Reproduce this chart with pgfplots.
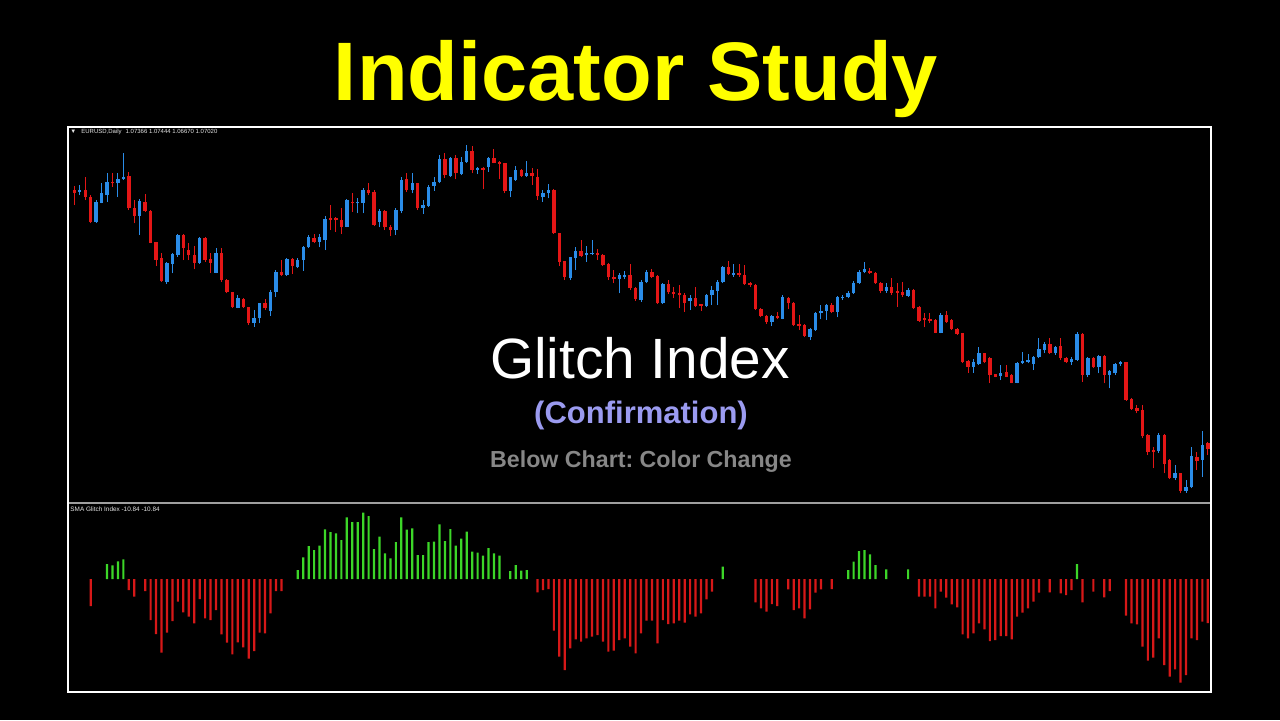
\documentclass[border=0pt]{standalone}
\usepackage{fontspec}
\setmainfont{Liberation Sans}
\usepackage{pgfplots}
\usepackage{pgfplotstable}
\pgfplotsset{compat=1.18}

\definecolor{candleup}{RGB}{42,140,232}
\definecolor{candledn}{RGB}{228,22,22}
\definecolor{histup}{RGB}{60,214,40}
\definecolor{histdn}{RGB}{214,24,24}
\definecolor{confirm}{RGB}{155,155,240}
\definecolor{subgrey}{RGB}{135,135,135}

% EURUSD daily candles: index, open, high, low, close
\pgfplotstableread{
i o h l c
0 1.2256 1.2280 1.2166 1.2240
1 1.2246 1.2286 1.2226 1.2256
2 1.2256 1.2336 1.2196 1.2216
3 1.2216 1.2226 1.2056 1.2066
4 1.2066 1.2196 1.2060 1.2186
5 1.2180 1.2296 1.2176 1.2240
6 1.2226 1.2356 1.2186 1.2306
7 1.2306 1.2356 1.2276 1.2296
8 1.2296 1.2356 1.2216 1.2320
9 1.2320 1.2476 1.2316 1.2336
10 1.2340 1.2366 1.2136 1.2146
11 1.2146 1.2196 1.2056 1.2100
12 1.2100 1.2200 1.1986 1.2190
13 1.2186 1.2232 1.2126 1.2130
14 1.2132 1.2136 1.1936 1.1940
15 1.1944 1.1946 1.1800 1.1836
16 1.1846 1.1876 1.1706 1.1710
17 1.1706 1.1826 1.1692 1.1816
18 1.1812 1.1876 1.1756 1.1872
19 1.1866 1.1990 1.1856 1.1984
20 1.1984 1.1990 1.1836 1.1906
21 1.1896 1.1936 1.1836 1.1866
22 1.1866 1.1920 1.1780 1.1820
23 1.1820 1.1976 1.1812 1.1966
24 1.1970 1.1972 1.1826 1.1836
25 1.1844 1.1876 1.1760 1.1820
26 1.1760 1.1906 1.1756 1.1880
27 1.1880 1.1906 1.1706 1.1716
28 1.1716 1.1720 1.1636 1.1646
29 1.1646 1.1646 1.1546 1.1552
30 1.1550 1.1626 1.1546 1.1606
31 1.1600 1.1606 1.1546 1.1552
32 1.1552 1.1556 1.1446 1.1456
33 1.1460 1.1536 1.1436 1.1486
34 1.1486 1.1580 1.1456 1.1576
35 1.1576 1.1600 1.1536 1.1546
36 1.1532 1.1656 1.1502 1.1646
37 1.1646 1.1776 1.1616 1.1766
38 1.1766 1.1836 1.1740 1.1746
39 1.1746 1.1848 1.1740 1.1844
40 1.1840 1.1846 1.1752 1.1800
41 1.1792 1.1846 1.1786 1.1836
42 1.1836 1.1920 1.1772 1.1912
43 1.1912 1.1986 1.1906 1.1972
44 1.1970 1.1992 1.1936 1.1944
45 1.1944 1.1992 1.1912 1.1976
46 1.1956 1.2100 1.1896 1.2080
47 1.2086 1.2166 1.2016 1.2076
48 1.2086 1.2096 1.2006 1.2076
49 1.2076 1.2146 1.1992 1.2036
50 1.2036 1.2200 1.2032 1.2196
51 1.2186 1.2236 1.2126 1.2176
52 1.2176 1.2206 1.2116 1.2184
53 1.2180 1.2266 1.2116 1.2256
54 1.2256 1.2300 1.2226 1.2240
55 1.2246 1.2256 1.2040 1.2046
56 1.2066 1.2140 1.2032 1.2132
57 1.2132 1.2136 1.2016 1.2032
58 1.2036 1.2046 1.1980 1.2016
59 1.2016 1.2146 1.1986 1.2136
60 1.2132 1.2336 1.2116 1.2316
61 1.2320 1.2356 1.2246 1.2256
62 1.2256 1.2360 1.2236 1.2296
63 1.2296 1.2300 1.2136 1.2146
64 1.2146 1.2196 1.2112 1.2166
65 1.2162 1.2286 1.2156 1.2276
66 1.2280 1.2336 1.2252 1.2302
67 1.2302 1.2466 1.2296 1.2440
68 1.2440 1.2480 1.2326 1.2346
69 1.2340 1.2456 1.2336 1.2446
70 1.2446 1.2466 1.2320 1.2356
71 1.2352 1.2456 1.2346 1.2426
72 1.2426 1.2526 1.2420 1.2492
73 1.2490 1.2520 1.2356 1.2376
74 1.2376 1.2396 1.2352 1.2384
75 1.2384 1.2396 1.2260 1.2376
76 1.2396 1.2456 1.2366 1.2446
77 1.2446 1.2500 1.2416 1.2420
78 1.2420 1.2432 1.2320 1.2412
79 1.2416 1.2420 1.2236 1.2252
80 1.2252 1.2336 1.2212 1.2332
81 1.2316 1.2400 1.2312 1.2376
82 1.2376 1.2380 1.2336 1.2342
83 1.2342 1.2432 1.2336 1.2356
84 1.2356 1.2386 1.2286 1.2340
85 1.2336 1.2380 1.2196 1.2220
86 1.2212 1.2256 1.2186 1.2240
87 1.2236 1.2292 1.2206 1.2256
88 1.2256 1.2260 1.1992 1.1996
89 1.1996 1.2000 1.1800 1.1826
90 1.1832 1.1832 1.1716 1.1736
91 1.1726 1.1856 1.1716 1.1852
92 1.1846 1.1916 1.1776 1.1890
93 1.1890 1.1956 1.1856 1.1860
94 1.1866 1.1920 1.1826 1.1876
95 1.1870 1.1956 1.1866 1.1876
96 1.1880 1.1900 1.1836 1.1866
97 1.1866 1.1872 1.1800 1.1806
98 1.1812 1.1816 1.1716 1.1732
99 1.1736 1.1776 1.1696 1.1720
100 1.1720 1.1756 1.1636 1.1746
101 1.1734 1.1772 1.1720 1.1742
102 1.1744 1.1812 1.1656 1.1666
103 1.1670 1.1676 1.1592 1.1600
104 1.1596 1.1716 1.1586 1.1706
105 1.1706 1.1776 1.1696 1.1766
106 1.1766 1.1780 1.1726 1.1736
107 1.1740 1.1746 1.1572 1.1576
108 1.1576 1.1696 1.1572 1.1692
109 1.1692 1.1716 1.1632 1.1642
110 1.1646 1.1676 1.1606 1.1632
111 1.1636 1.1686 1.1546 1.1624
112 1.1624 1.1636 1.1526 1.1580
113 1.1590 1.1626 1.1536 1.1608
114 1.1606 1.1676 1.1556 1.1562
115 1.1566 1.1572 1.1532 1.1560
116 1.1560 1.1632 1.1552 1.1626
117 1.1626 1.1680 1.1566 1.1656
118 1.1652 1.1716 1.1566 1.1706
119 1.1702 1.1800 1.1696 1.1792
120 1.1792 1.1832 1.1746 1.1750
121 1.1746 1.1812 1.1736 1.1756
122 1.1756 1.1812 1.1736 1.1746
123 1.1744 1.1806 1.1686 1.1690
124 1.1696 1.1706 1.1676 1.1686
125 1.1686 1.1692 1.1536 1.1540
126 1.1542 1.1546 1.1492 1.1500
127 1.1500 1.1506 1.1452 1.1466
128 1.1466 1.1506 1.1440 1.1500
129 1.1500 1.1526 1.1480 1.1486
130 1.1484 1.1626 1.1480 1.1612
131 1.1606 1.1616 1.1540 1.1576
132 1.1580 1.1586 1.1440 1.1446
133 1.1450 1.1506 1.1416 1.1442
134 1.1446 1.1450 1.1372 1.1380
135 1.1376 1.1426 1.1356 1.1420
136 1.1416 1.1526 1.1412 1.1516
137 1.1516 1.1566 1.1480 1.1532
138 1.1532 1.1572 1.1476 1.1566
139 1.1566 1.1576 1.1516 1.1526
140 1.1526 1.1620 1.1492 1.1612
141 1.1606 1.1626 1.1596 1.1616
142 1.1612 1.1652 1.1606 1.1640
143 1.1636 1.1712 1.1632 1.1700
144 1.1696 1.1776 1.1692 1.1766
145 1.1766 1.1826 1.1756 1.1782
146 1.1772 1.1786 1.1752 1.1756
147 1.1760 1.1766 1.1692 1.1696
148 1.1700 1.1706 1.1636 1.1650
149 1.1652 1.1700 1.1640 1.1672
150 1.1672 1.1726 1.1626 1.1640
151 1.1648 1.1696 1.1556 1.1640
152 1.1646 1.1706 1.1616 1.1626
153 1.1622 1.1666 1.1616 1.1656
154 1.1656 1.1660 1.1540 1.1546
155 1.1556 1.1560 1.1466 1.1472
156 1.1486 1.1516 1.1432 1.1476
157 1.1480 1.1520 1.1456 1.1472
158 1.1476 1.1480 1.1396 1.1400
159 1.1400 1.1516 1.1396 1.1506
160 1.1504 1.1532 1.1460 1.1466
161 1.1476 1.1480 1.1416 1.1420
162 1.1422 1.1426 1.1386 1.1392
163 1.1396 1.1400 1.1216 1.1226
164 1.1230 1.1236 1.1160 1.1196
165 1.1196 1.1240 1.1160 1.1224
166 1.1210 1.1316 1.1206 1.1276
167 1.1276 1.1280 1.1216 1.1226
168 1.1246 1.1256 1.1096 1.1146
169 1.1150 1.1152 1.1132 1.1136
170 1.1140 1.1206 1.1116 1.1156
171 1.1166 1.1206 1.1132 1.1136
172 1.1146 1.1152 1.1096 1.1100
173 1.1100 1.1226 1.1096 1.1220
174 1.1216 1.1286 1.1212 1.1230
175 1.1224 1.1272 1.1216 1.1234
176 1.1212 1.1260 1.1176 1.1252
177 1.1252 1.1366 1.1246 1.1300
178 1.1296 1.1346 1.1276 1.1332
179 1.1332 1.1366 1.1272 1.1276
180 1.1276 1.1320 1.1266 1.1312
181 1.1320 1.1366 1.1236 1.1246
182 1.1246 1.1256 1.1216 1.1222
183 1.1224 1.1252 1.1206 1.1240
184 1.1236 1.1406 1.1232 1.1392
185 1.1392 1.1400 1.1106 1.1146
186 1.1146 1.1252 1.1132 1.1246
187 1.1246 1.1252 1.1186 1.1192
188 1.1192 1.1266 1.1156 1.1260
189 1.1260 1.1266 1.1096 1.1146
190 1.1146 1.1176 1.1066 1.1170
191 1.1156 1.1216 1.1146 1.1210
192 1.1210 1.1232 1.1202 1.1222
193 1.1222 1.1226 1.0992 1.0996
194 1.1002 1.1006 1.0936 1.0942
195 1.0946 1.0966 1.0916 1.0932
196 1.0936 1.0966 1.0766 1.0780
197 1.0786 1.0792 1.0666 1.0686
198 1.0696 1.0716 1.0586 1.0686
199 1.0692 1.0796 1.0680 1.0786
200 1.0786 1.0792 1.0556 1.0612
201 1.0636 1.0640 1.0520 1.0526
202 1.0530 1.0606 1.0516 1.0556
203 1.0556 1.0560 1.0436 1.0452
204 1.0452 1.0516 1.0440 1.0476
205 1.0472 1.0716 1.0466 1.0660
206 1.0656 1.0686 1.0576 1.0632
207 1.0636 1.0812 1.0536 1.0724
208 1.07366 1.07444 1.06670 1.07020
}\candles

\begin{document}
\begin{tikzpicture}
\fill[black] (0,0) rectangle (640pt,360pt);

% title
\node[anchor=base, text={rgb,255:red,255;green,255;blue,0}, font=\fontsize{41.5}{48}\selectfont\bfseries, inner sep=0] at (318pt,310pt) {Indicator Study};

% price panel
\begin{axis}[at={(34.5pt,109pt)}, anchor=south west, scale only axis,
    width=570.5pt, height=187pt,
    xmin=-0.98, xmax=208.4, ymin=1.0384, ymax=1.2628, hide axis]
    % wicks
    \addplot[draw=none, mark=none, error bars/.cd, y dir=plus, y explicit, error mark=none,
        error bar style={draw=candleup, line width=0.5pt}]
        table[x=i, y expr={\thisrow{c}>=\thisrow{o} ? \thisrow{l} : nan},
              y error plus expr={\thisrow{h}-\thisrow{l}}] {\candles};
    \addplot[draw=none, mark=none, error bars/.cd, y dir=plus, y explicit, error mark=none,
        error bar style={draw=candledn, line width=0.5pt}]
        table[x=i, y expr={\thisrow{c}<\thisrow{o} ? \thisrow{l} : nan},
              y error plus expr={\thisrow{h}-\thisrow{l}}] {\candles};
    % bodies
    \addplot[draw=none, mark=none, error bars/.cd, y dir=plus, y explicit, error mark=none,
        error bar style={draw=candleup, line width=1.7pt}]
        table[x=i, y expr={\thisrow{c}>=\thisrow{o} ? \thisrow{o} : nan},
              y error plus expr={max(\thisrow{c}-\thisrow{o},0.0011)}] {\candles};
    \addplot[draw=none, mark=none, error bars/.cd, y dir=plus, y explicit, error mark=none,
        error bar style={draw=candledn, line width=1.7pt}]
        table[x=i, y expr={\thisrow{c}<\thisrow{o} ? \thisrow{c} : nan},
              y error plus expr={max(\thisrow{o}-\thisrow{c},0.0011)}] {\candles};
\end{axis}

% indicator panel
\begin{axis}[at={(34.5pt,14.5pt)}, anchor=south west, scale only axis,
    width=570.5pt, height=94pt,
    xmin=-0.98, xmax=208.4, ymin=-27.55, ymax=18.7, hide axis]
    \addplot[ybar, bar width=1.1pt, bar shift=0pt, fill=histup, draw=none] coordinates {
        (6,3.69) (7,3.36) (8,4.35) (9,4.84) (41,2.21) (42,5.33) (43,8.12) (44,7.13)
        (45,8.20) (46,12.22) (47,11.56) (48,11.23) (49,9.59) (50,15.17) (51,14.02)
        (52,14.02) (53,16.32) (54,15.50) (55,7.38) (56,10.41) (57,6.31) (58,5.08)
        (59,9.10) (60,15.17) (61,12.14) (62,12.46) (63,5.90) (64,5.90) (65,9.10)
        (66,9.18) (67,13.45) (68,9.35) (69,12.30) (70,8.20) (71,9.92) (72,11.64)
        (73,6.72) (74,6.48) (75,5.74) (76,7.63) (77,6.31) (78,5.74) (80,1.97)
        (81,3.44) (82,2.05) (83,2.21) (119,3.03) (142,2.21) (143,4.26) (144,6.89)
        (145,7.13) (146,6.07) (147,3.44) (149,2.38) (153,2.38) (184,3.69)
    };
    \addplot[ybar, bar width=1.1pt, bar shift=0pt, fill=histdn, draw=none] coordinates {
        (3,-6.64) (10,-2.71) (11,-4.35) (13,-2.95) (14,-10.09) (15,-13.53) (16,-18.12)
        (17,-13.20) (18,-10.33) (19,-5.58) (20,-8.20) (21,-9.27) (22,-10.91) (23,-4.92)
        (24,-9.68) (25,-10.09) (26,-7.63) (27,-13.61) (28,-15.66) (29,-18.53)
        (30,-15.58) (31,-16.81) (32,-19.60) (33,-17.71) (34,-13.20) (35,-13.37)
        (36,-8.45) (37,-2.95) (38,-2.95) (85,-3.28) (86,-2.71) (87,-2.46) (88,-12.71)
        (89,-19.11) (90,-22.39) (91,-17.06) (92,-14.84) (93,-15.42) (94,-14.60)
        (95,-14.19) (96,-13.78) (97,-15.42) (98,-17.88) (99,-17.63) (100,-15.01)
        (101,-14.60) (102,-16.65) (103,-18.29) (104,-13.37) (105,-10.25) (106,-10.25)
        (107,-15.83) (108,-10.09) (109,-11.07) (110,-10.91) (111,-10.25) (112,-10.74)
        (113,-8.69) (114,-9.27) (115,-8.45) (116,-5.00) (117,-3.12) (125,-5.74)
        (126,-7.22) (127,-8.04) (128,-6.15) (129,-6.64) (131,-2.54) (132,-7.63)
        (133,-7.22) (134,-9.68) (135,-7.46) (136,-3.36) (137,-2.54) (139,-2.46)
        (155,-4.35) (156,-4.35) (157,-4.35) (158,-7.22) (159,-3.12) (160,-4.59)
        (161,-6.23) (162,-6.97) (163,-13.61) (164,-14.60) (165,-13.37) (166,-10.91)
        (167,-12.38) (168,-15.25) (169,-15.01) (170,-14.02) (171,-14.02) (172,-14.84)
        (173,-9.27) (174,-8.28) (175,-7.22) (176,-5.58) (177,-3.36) (179,-3.28)
        (181,-3.53) (182,-3.94) (183,-2.71) (185,-5.74) (187,-3.12) (189,-4.51)
        (190,-2.95) (193,-9.02) (194,-10.91) (195,-11.15) (196,-16.65) (197,-20.09)
        (198,-19.35) (199,-14.60) (200,-21.16) (201,-24.03) (202,-22.22) (203,-25.50)
        (204,-23.62) (205,-14.60) (206,-15.01) (207,-10.50) (208,-10.84)
    };
\end{axis}

% frame and panel separator
\draw[white, line width=1pt] (34pt,14pt) rectangle (605.5pt,296.5pt);
\draw[gray!75, line width=0.75pt] (34.5pt,108.5pt) -- (605pt,108.5pt);

% small terminal labels
\node[anchor=base west, inner sep=0, text=gray!20, font=\fontsize{3.0}{4}\selectfont] at (35pt,293.5pt)
    {▼\hspace{2.5pt}EURUSD,Daily\hspace{2pt}1.07366 1.07444 1.06670 1.07020};
\node[anchor=base west, inner sep=0, text=gray!20, font=\fontsize{3.2}{4}\selectfont] at (35pt,104.5pt)
    {SMA Glitch Index -10.84 -10.84};

% centre captions
\node[anchor=base, inner sep=0, text=white, font=\fontsize{28.4}{32}\selectfont] at (320pt,171pt) {Glitch Index};
\node[anchor=base, inner sep=0, text=confirm, font=\fontsize{15.5}{18}\selectfont\bfseries] at (320.5pt,148.5pt) {(Confirmation)};
\node[anchor=base, inner sep=0, text=subgrey, font=\fontsize{11.6}{14}\selectfont\bfseries] at (320.5pt,126.5pt) {Below Chart:\ Color Change};

\pgfresetboundingbox
\useasboundingbox (0,0) rectangle (640pt,360pt);
\end{tikzpicture}
\end{document}
